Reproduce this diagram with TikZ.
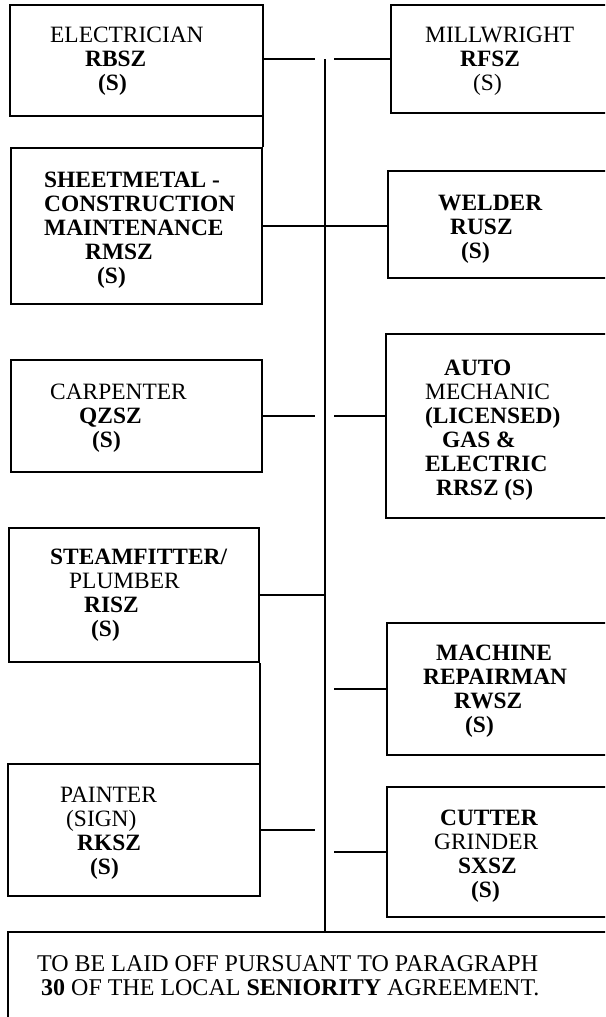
\documentclass[tikz,border=0pt]{standalone}
\usepackage{fontspec}
\setmainfont{Liberation Serif}
\newcommand{\indt}[1]{\hspace*{#1pt}}

\begin{document}
\begin{tikzpicture}[x=1pt,y=-1pt,
  box/.style={draw,line width=2pt,inner sep=0pt},
  lbl/.style={inner sep=0pt,align=left,anchor=west,
    font=\fontsize{23.4}{24}\selectfont},
  lblb/.style={lbl,font=\fontsize{23.4}{24}\selectfont\bfseries},
  rim/.style={line width=2pt},
  link/.style={line width=1.6pt},
  trunkline/.style={line width=2.2pt}]
  \useasboundingbox (0,0) rectangle (605,1017);
  \clip (0,0) rectangle (605,1017);
  \node[box,minimum width=253pt,minimum height=111pt] (elec)  at (136.5,60.5) {};
  \node[box,minimum width=224pt,minimum height=108pt] (mill)  at (503,59)     {};
  \node[box,minimum width=251pt,minimum height=156pt] (sheet) at (136.5,226)  {};
  \node[box,minimum width=227pt,minimum height=107pt] (weld)  at (501.5,224.5) {};
  \node[box,minimum width=251pt,minimum height=112pt] (carp)  at (136.5,416)  {};
  \node[box,minimum width=229pt,minimum height=184pt] (auto)  at (500.5,426)  {};
  \node[box,minimum width=250pt,minimum height=134pt] (steam) at (134,595)    {};
  \node[box,minimum width=228pt,minimum height=132pt] (mach)  at (501,689)    {};
  \node[box,minimum width=252pt,minimum height=132pt] (paint) at (134,830)    {};
  \node[box,minimum width=228pt,minimum height=130pt] (cut)   at (501,852)    {};
  \node[box,minimum width=607pt,minimum height=98pt]  (note)  at (311.5,981)  {};

  \node[lbl]  (elec-t)  at (50,61)    {ELECTRICIAN\\\indt{35}\textbf{RBSZ}\\\indt{48}\textbf{(S)}};
  \node[lbl]  (mill-t)  at (425,61)   {MILLWRIGHT\\\indt{35}\textbf{RFSZ}\\\indt{48}(S)};
  \node[lblb] (sheet-t) at (44,230.5) {SHEETMETAL -\\CONSTRUCTION\\MAINTENANCE\\\indt{41}RMSZ\\\indt{53}(S)};
  \node[lblb] (weld-t)  at (438,229.5) {WELDER\\\indt{12}RUSZ\\\indt{23}(S)};
  \node[lbl]  (carp-t)  at (50,418)   {CARPENTER\\\indt{29}\textbf{QZSZ}\\\indt{42}\textbf{(S)}};
  \node[lbl]  (auto-t)  at (425,430.5) {\indt{19}\textbf{AUTO}\\MECHANIC\\\textbf{(LICENSED)}\\\indt{17}\textbf{GAS \&}\\\textbf{ELECTRIC}\\\indt{11}\textbf{RRSZ (S)}};
  \node[lbl]  (steam-t) at (50,595.5) {\textbf{STEAMFITTER/}\\\indt{19}PLUMBER\\\indt{34}\textbf{RISZ}\\\indt{41}\textbf{(S)}};
  \node[lblb] (mach-t)  at (423,691.5) {\indt{13}MACHINE\\REPAIRMAN\\\indt{31}RWSZ\\\indt{42}(S)};
  \node[lbl]  (paint-t) at (60,833)   {PAINTER\\\indt{6}(SIGN)\\\indt{17}\textbf{RKSZ}\\\indt{30}\textbf{(S)}};
  \node[lbl]  (cut-t)   at (434,856.5) {\indt{6}\textbf{CUTTER}\\GRINDER\\\indt{24}\textbf{SXSZ}\\\indt{37}\textbf{(S)}};
  \node[lbl,font=\fontsize{24}{24}\selectfont] (note-t) at (37,975.5)
    {TO BE LAID OFF PURSUANT TO PARAGRAPH\\\indt{4}\textbf{30} OF THE LOCAL \textbf{SENIORITY} AGREEMENT.};

  \coordinate (trunk) at (325,0);
  \coordinate (gapL)  at (315,0);
  \coordinate (gapR)  at (334,0);
  \draw[trunkline] (mill.west -| trunk) -- (note.north -| trunk);
  \draw[link] (elec.east |- mill.west) -- (mill.west -| gapL);
  \draw[link] (mill.west -| gapR) -- (mill.west);
  \draw[rim] (sheet.north east |- elec.south) -- (sheet.north east);
  \draw[link] (sheet.east) -- (sheet.east -| weld.west);
  \draw[link] (carp.east) -- (carp.east -| gapL);
  \draw[link] (carp.east -| gapR) -- (carp.east -| auto.west);
  \draw[link] (steam.east) -- (steam.east -| trunk);
  \draw[link] (mach.west -| gapR) -- (mach.west);
  \draw[rim] (steam.south east) -- (steam.south east |- paint.north);
  \draw[link] (paint.east) -- (paint.east -| gapL);
  \draw[link] (cut.west -| gapR) -- (cut.west);
\end{tikzpicture}
\end{document}
